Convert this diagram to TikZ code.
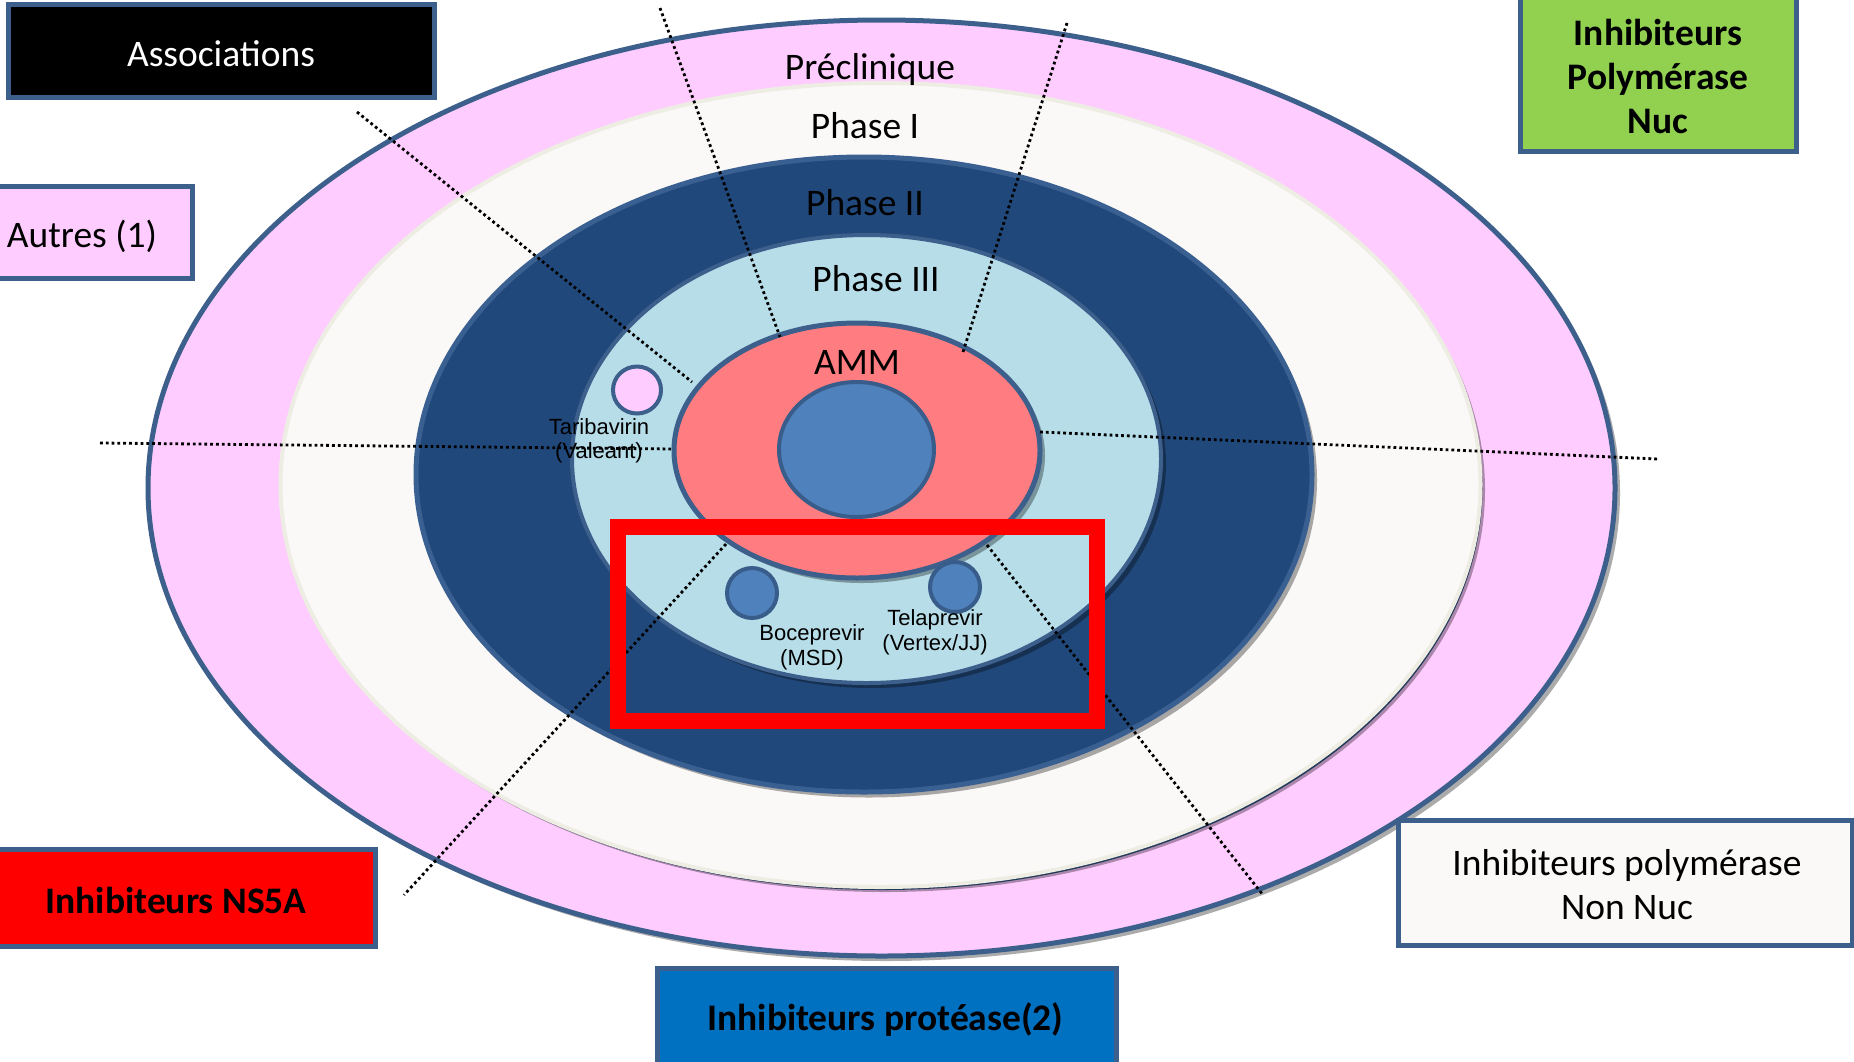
\documentclass[tikz,border=0pt]{standalone}
\usepackage{fontspec}
\setmainfont{Carlito}
\newfontfamily\arialf{Liberation Sans}
\definecolor{pinkf}{HTML}{FFCCFF}
\definecolor{edgeb}{HTML}{3C5F8C}
\definecolor{ivory}{HTML}{FAF9F7}
\definecolor{ivoryedge}{HTML}{EDEDE4}
\definecolor{navy}{HTML}{21487A}
\definecolor{navyedge}{HTML}{3A6091}
\definecolor{navyline}{HTML}{22395A}
\definecolor{lblue}{HTML}{B6DDE8}
\definecolor{salmon}{HTML}{FF7C80}
\definecolor{midblue}{HTML}{4F81BD}
\definecolor{midedge}{HTML}{385D8A}
\definecolor{grn}{HTML}{92D050}
\definecolor{pblue}{HTML}{0070C0}
\definecolor{boxedge}{HTML}{3D5F8B}
\begin{document}
\begin{tikzpicture}[x=1pt,y=-1pt,
  shadowc/.style={fill=black,fill opacity=0.33},
  ring/.style={line width=5pt},
  dotline/.style={black,line width=2.8pt,dash pattern=on 2.8pt off 3pt},
  boxshape/.style={rectangle,draw=boxedge,line width=5pt,inner sep=0pt},
  biglbl/.style={font=\fontsize{37.5}{44}\selectfont,anchor=base,inner sep=0pt},
  boldlbl/.style={font=\bfseries\fontsize{37.5}{44}\selectfont,anchor=base,inner sep=0pt},
  druglbl/.style={font=\arialf\fontsize{22}{24.5}\selectfont,align=center,inner sep=0pt}]
\useasboundingbox (0,0) rectangle (1854,1061);
\fill[white] (0,0) rectangle (1854,1061);

% Preclinique (outer)
\fill[shadowc] (886.5,493) ellipse (733.5 and 468);
\filldraw[fill=pinkf,draw=edgeb,ring] (881.5,488) ellipse (733.5 and 468);
% Phase I
\fill[shadowc] (885,490) ellipse (600 and 402);
\fill[navyline] (882.5,488) ellipse (600 and 402);
\filldraw[fill=ivory,draw=ivoryedge,line width=4pt] (880.5,485) ellipse (600 and 402);
% Phase II
\fill[shadowc] (869,480) ellipse (448 and 317.5);
\filldraw[fill=navy,draw=navyedge,ring] (864,474.5) ellipse (448 and 317.5);
% Phase III
\fill[shadowc] (871.5,464) ellipse (294.5 and 224);
\filldraw[fill=lblue,draw=edgeb,line width=4pt] (866.5,459) ellipse (294.5 and 224);
% AMM
\fill[shadowc] (862,455.5) ellipse (183 and 127.5);
\filldraw[fill=salmon,draw=edgeb,ring] (857,450.5) ellipse (183 and 127.5);
% centre
\filldraw[fill=midblue,draw=midedge,line width=4pt] (856.5,449.5) ellipse (77.5 and 67.5);

% radial dotted lines
\coordinate (l1a) at (357,112);  \coordinate (l1b) at (692,382);
\coordinate (l2a) at (660,8);    \coordinate (l2b) at (780,337);
\coordinate (l3a) at (1067,23);  \coordinate (l3b) at (963,352);
\coordinate (l4a) at (1040,432); \coordinate (l4b) at (1658,459);
\coordinate (l5a) at (987,545);  \coordinate (l5b) at (1263,895);
\coordinate (l6a) at (726,544);  \coordinate (l6b) at (404,895);
\coordinate (l7a) at (100,443);  \coordinate (l7b) at (674,449);
\foreach \a/\b in {l1a/l1b,l2a/l2b,l3a/l3b,l4a/l4b,l5a/l5b,l6a/l6b,l7a/l7b}
  \draw[dotline] (\a) -- (\b);

% small drug circles
\filldraw[fill=pinkf,draw=edgeb,line width=4pt] (637,390) ellipse (24 and 23.5);
\filldraw[fill=midblue,draw=midedge,line width=4pt] (752,593) ellipse (25 and 25);
\filldraw[fill=midblue,draw=midedge,line width=4pt] (955,587) ellipse (25 and 25);

% ring labels
\node[biglbl] (precl) at (870,79) {Préclinique};
\node[biglbl] (ph1) at (865,138) {Phase I};
\node[biglbl] (ph2) at (865,215) {Phase II};
\node[biglbl] (ph3) at (876,291) {Phase III};
\node[biglbl] (amm) at (857,374) {AMM};

% drug labels
\node[druglbl] (tari) at (599,441) {Taribavirin\\(Valeant)};
\node[druglbl] (boce) at (812,647.5) {Boceprevir\\(MSD)};
\node[druglbl] (tela) at (935,632.5) {Telaprevir\\(Vertex/JJ)};

% red highlight frame
\draw[red,line width=16pt] (617.5,527) rectangle (1097,721);

% category boxes
\node[boxshape,fill=black,minimum width=426pt,minimum height=93pt] (assoc) at (221,50.5) {};
\node[biglbl,text=white] (assoct) at (221,66) {Associations};

\node[boxshape,fill=pinkf,minimum width=222pt,minimum height=92pt] (autres) at (81,232) {};
\node[biglbl] (autrest) at (82,247) {Autres (1)};

\node[boxshape,fill=grn,minimum width=276pt,minimum height=154pt] (nuc) at (1658,74) {};
\node[font=\bfseries\fontsize{37.5}{44}\selectfont,align=center,inner sep=0pt] (nuct) at (1658,76.5) {Inhibiteurs\\Polymérase\\Nuc};

\node[boxshape,fill=red,minimum width=398pt,minimum height=97pt] (ns5a) at (176,897.5) {};
\node[boldlbl] (ns5at) at (176,913) {Inhibiteurs NS5A};

\node[boxshape,fill=pblue,minimum width=459pt,minimum height=104pt] (prot) at (886.5,1020) {};
\node[boldlbl] (prott) at (885.5,1030) {Inhibiteurs protéase(2)};

\node[boxshape,fill=ivory,minimum width=454pt,minimum height=125pt] (nnuc) at (1625,882.5) {};
\node[font=\fontsize{37.5}{44}\selectfont,align=center,inner sep=0pt] (nnuct) at (1627,884.5) {Inhibiteurs polymérase\\Non Nuc};
\end{tikzpicture}
\end{document}
